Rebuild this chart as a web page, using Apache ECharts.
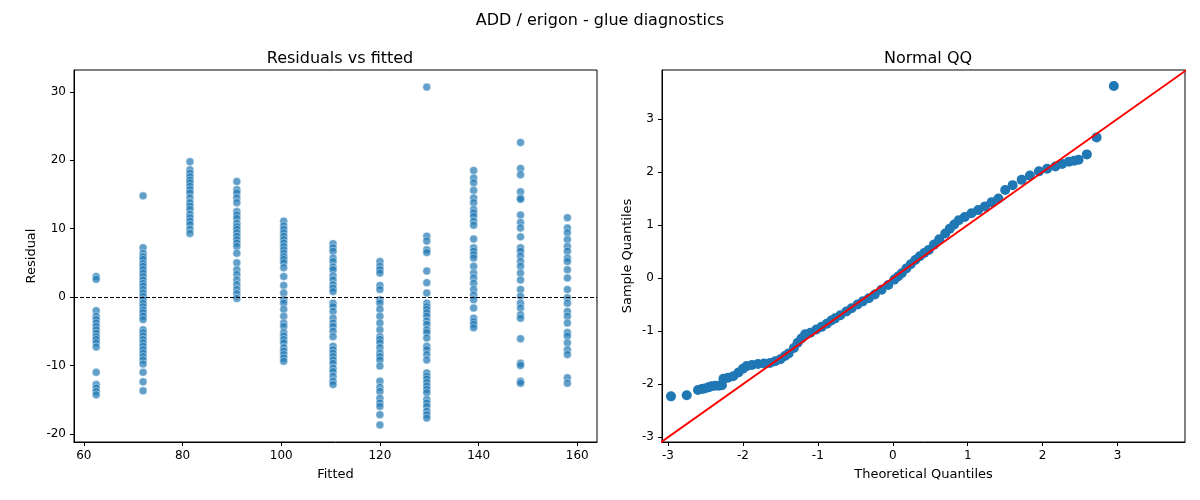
<!DOCTYPE html>
<html>
<head>
<meta charset="utf-8">
<script src="https://cdn.jsdelivr.net/npm/echarts@6/dist/echarts.min.js"></script>
<style>
  html, body { margin: 0; padding: 0; background: #fff; }
  #chart { width: 1200px; height: 500px; }
</style>
</head>
<body>
<div id="chart"></div>
<script>
// fitted levels and the residuals
const fittedLevels = [62.5, 72, 81.5, 91, 100.5, 110.5, 120, 129.5, 139, 148.5, 158]
const residualsByLevel = [
  [3.0, 2.6, -2.0, -2.8, -3.3, -3.8, -4.3, -4.8, -5.3, -5.8, -6.2, -6.7, -7.3, -11.0, -12.8, -13.3, -13.8, -14.3],
  [14.8, 7.2, 6.4, 5.9, 5.5, 4.9, 4.5, 4.0, 3.5, 3.0, 2.5, 2.0, 1.6, 1.1, 0.6, 0.1, -0.4, -0.9, -1.4, -1.9, -2.3, -2.8, -3.3, -4.8, -5.2, -5.7, -6.2, -6.7, -7.2, -7.7, -8.2, -8.7, -9.2, -9.8, -11.0, -12.4, -13.7],
  [19.8, 18.6, 18.1, 17.6, 17.1, 16.7, 16.2, 15.7, 15.2, 14.5, 13.8, 13.3, 12.8, 12.1, 11.6, 11.1, 10.6, 9.9, 9.3],
  [16.9, 15.7, 15.2, 14.5, 13.8, 12.5, 12.0, 11.5, 10.8, 10.3, 9.9, 9.4, 8.9, 8.4, 7.9, 7.4, 6.4, 5.0, 4.0, 3.3, 2.5, 1.8, 1.1, 0.5, -0.2],
  [11.1, 10.4, 9.9, 9.4, 8.9, 8.4, 7.9, 7.4, 6.9, 6.4, 5.9, 5.5, 5.0, 4.3, 3.0, 1.7, 0.6, -0.4, -0.9, -1.8, -2.8, -3.8, -4.3, -5.2, -5.7, -6.2, -6.7, -7.4, -7.9, -8.4, -8.9, -9.4],
  [7.8, 7.2, 6.7, 5.7, 5.2, 4.4, 4.0, 3.1, 2.5, 1.8, 1.3, 0.8, -0.9, -1.4, -2.1, -3.1, -3.8, -4.3, -5.0, -5.8, -7.2, -7.7, -8.2, -8.7, -9.2, -9.7, -10.4, -10.9, -11.6, -12.3, -12.8],
  [5.2, 4.5, 4.0, 3.5, 1.7, 1.1, -0.4, -0.9, -1.8, -2.8, -3.8, -4.8, -5.8, -6.2, -6.7, -7.4, -8.2, -8.7, -9.2, -10.1, -12.3, -13.2, -13.8, -14.8, -15.5, -16.0, -17.2, -18.7],
  [30.7, 8.9, 8.2, 6.9, 6.5, 3.8, 2.1, 0.6, -0.9, -1.4, -1.8, -2.3, -2.8, -3.5, -4.0, -4.8, -5.2, -6.0, -7.2, -7.7, -8.4, -9.2, -11.1, -11.6, -12.0, -12.5, -13.0, -13.5, -14.0, -15.0, -15.5, -16.0, -16.7, -17.2, -17.7],
  [18.5, 17.4, 16.7, 15.6, 14.5, 13.8, 12.8, 12.3, 11.8, 11.1, 10.5, 8.5, 7.2, 6.7, 6.2, 5.7, 4.5, 3.5, 2.8, 2.0, 1.1, 0.3, -0.4, -1.6, -3.1, -3.6, -4.0, -4.5],
  [22.6, 18.8, 17.9, 15.4, 14.5, 14.3, 12.0, 10.9, 10.1, 8.8, 7.2, 6.7, 6.0, 5.2, 4.5, 3.5, 2.5, 1.1, 0.1, -0.9, -1.6, -2.6, -3.1, -6.1, -9.7, -10.0, -12.3, -12.6],
  [11.6, 10.1, 9.4, 8.4, 7.4, 6.7, 5.7, 5.2, 4.0, 2.8, 1.1, -0.1, -0.9, -2.1, -2.8, -3.8, -5.2, -5.7, -6.7, -7.7, -8.4, -11.8, -12.6]
]

// QQ points [theoretical, sample]
const qqPoints = [
  [-2.96, -2.23], [-2.75, -2.21], [-2.6, -2.11], [-2.55, -2.09], [-2.51, -2.08], [-2.46, -2.06], [-2.42, -2.04],
  [-2.37, -2.03], [-2.32, -2.03], [-2.28, -2.02], [-2.26, -1.9], [-2.2, -1.88], [-2.13, -1.85], [-2.06, -1.78],
  [-2.0, -1.71], [-1.95, -1.66], [-1.88, -1.64], [-1.8, -1.62], [-1.72, -1.61], [-1.64, -1.6], [-1.57, -1.57],
  [-1.5, -1.53], [-1.44, -1.47], [-1.39, -1.42], [-1.32, -1.32], [-1.27, -1.22], [-1.22, -1.14], [-1.17, -1.06],
  [-1.1, -1.03], [-1.02, -0.97], [-0.95, -0.92], [-0.88, -0.86], [-0.82, -0.8], [-0.77, -0.76], [-0.7, -0.7],
  [-0.62, -0.63], [-0.55, -0.57], [-0.47, -0.5], [-0.4, -0.44], [-0.32, -0.38], [-0.24, -0.31], [-0.15, -0.22],
  [-0.06, -0.13], [0.02, -0.03], [0.07, 0.03], [0.12, 0.09], [0.18, 0.18], [0.24, 0.26], [0.3, 0.34],
  [0.36, 0.41], [0.42, 0.47], [0.48, 0.53], [0.55, 0.63], [0.62, 0.73], [0.7, 0.84], [0.76, 0.93],
  [0.82, 1.01], [0.88, 1.09], [0.96, 1.15], [1.05, 1.22], [1.14, 1.28], [1.23, 1.35], [1.32, 1.43],
  [1.41, 1.5], [1.5, 1.66], [1.6, 1.75], [1.72, 1.85], [1.83, 1.93], [1.95, 2.01], [2.06, 2.06],
  [2.17, 2.1], [2.26, 2.15], [2.35, 2.19], [2.42, 2.21], [2.48, 2.23], [2.59, 2.33], [2.72, 2.65], [2.95, 3.62]
]
const refLine = [[-3.2, -3.2], [4.0, 4.0]]

const residualPoints = []
fittedLevels.forEach((f, i) => {
  residualsByLevel[i].forEach(r => residualPoints.push([f, r]))
})

const font = 'DejaVu Sans'
const axisCommon = {
  axisLine: { onZero: false, lineStyle: { color: '#000' } },
  axisTick: { lineStyle: { color: '#000' }, length: 4 },
  axisLabel: { color: '#000', fontSize: 12, fontFamily: font, showMinLabel: false, showMaxLabel: false },
  splitLine: { show: false },
  nameLocation: 'middle',
  nameTextStyle: { color: '#000', fontSize: 13, fontFamily: font }
}

const chart = echarts.init(document.getElementById('chart'))
chart.setOption({
  animation: false,
  title: [
    { text: 'ADD / erigon - glue diagnostics', left: 'center', top: 8, textStyle: { fontFamily: font, fontSize: 16, fontWeight: 'normal', color: '#000' } },
    { text: 'Residuals vs fitted', left: 335, top: 46, textAlign: 'center', textStyle: { fontFamily: font, fontSize: 16, fontWeight: 'normal', color: '#000' } },
    { text: 'Normal QQ', left: 923, top: 46, textAlign: 'center', textStyle: { fontFamily: font, fontSize: 16, fontWeight: 'normal', color: '#000' } }
  ],
  grid: [
    { left: 74, top: 70, width: 523, height: 372, show: true, borderColor: '#000', borderWidth: 1 },
    { left: 662, top: 70, width: 523, height: 372, show: true, borderColor: '#000', borderWidth: 1 }
  ],
  xAxis: [
    Object.assign({}, axisCommon, { gridIndex: 0, type: 'value', min: 58, max: 164, name: 'Fitted', nameGap: 26 }),
    Object.assign({}, axisCommon, { gridIndex: 1, type: 'value', min: -3.08, max: 3.9, name: 'Theoretical Quantiles', nameGap: 26 })
  ],
  yAxis: [
    Object.assign({}, axisCommon, { gridIndex: 0, type: 'value', min: -21.2, max: 33.2, name: 'Residual', nameGap: 36 }),
    Object.assign({}, axisCommon, { gridIndex: 1, type: 'value', min: -3.09, max: 3.92, name: 'Sample Quantiles', nameGap: 28 })
  ],
  series: [
    {
      type: 'scatter', xAxisIndex: 0, yAxisIndex: 0, data: residualPoints,
      symbolSize: 8,
      itemStyle: { color: '#1f77b4', opacity: 0.7, borderColor: '#fff', borderWidth: 0.6 },
      markLine: {
        silent: true, symbol: 'none', label: { show: false },
        lineStyle: { color: '#000', type: [4, 2], width: 1.2 },
        data: [{ yAxis: 0 }]
      }
    },
    {
      type: 'scatter', xAxisIndex: 1, yAxisIndex: 1, data: qqPoints,
      symbolSize: 10,
      itemStyle: { color: '#1f77b4', opacity: 1 }
    },
    {
      type: 'line', xAxisIndex: 1, yAxisIndex: 1, data: refLine,
      symbol: 'none', clip: true,
      lineStyle: { color: '#ff0000', width: 2 }
    }
  ]
})
</script>
</body>
</html>
